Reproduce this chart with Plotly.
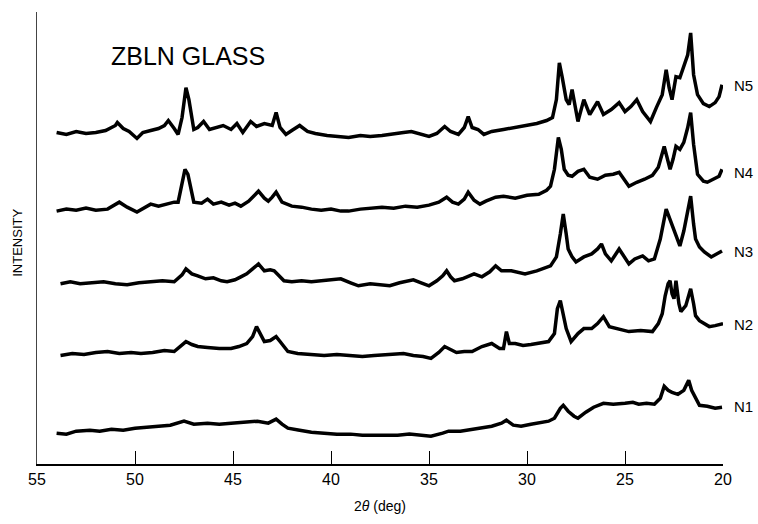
import plotly.graph_objects as go

# 2-theta positions (deg) and relative intensities (arbitrary units, stacked offsets included)
n5_x = [54.0,53.5,53.0,52.5,52.0,51.5,51.0,50.9,50.6,50.3,49.9,49.6,49.2,48.8,48.5,48.3,48.0,47.8,47.6,47.4,47.25,47.0,46.8,46.5,46.2,45.8,45.5,45.1,44.8,44.5,44.1,43.8,43.4,43.0,42.8,42.6,42.3,42.0,41.6,41.2,40.8,40.2,39.6,39.1,38.5,38.0,37.4,36.8,36.3,35.9,35.4,35.0,34.6,34.2,33.9,33.5,33.2,33.0,32.8,32.5,32.2,31.8,31.2,30.6,30.0,29.5,29.0,28.7,28.5,28.35,28.2,28.0,27.85,27.7,27.4,27.1,26.8,26.4,26.1,25.7,25.3,25.0,24.7,24.4,24.1,23.7,23.4,23.1,22.9,22.75,22.6,22.4,22.2,22.0,21.8,21.65,21.5,21.3,21.0,20.7,20.4,20.2,20.05]
n5_y = [333,331,334,332,333,335,340,343,337,334,327,333,335,337,340,345,337,331,348,378,366,336,338,344,336,338,340,336,342,333,344,339,342,340,353,338,331,335,340,334,332,330,329,328,330,329,330,332,333,334,331,329,332,339,334,331,338,349,338,336,331,334,336,338,340,342,345,348,366,403,388,366,361,376,344,366,351,364,351,356,363,354,359,366,354,344,358,371,396,378,366,389,388,399,411,433,391,371,362,359,363,369,381]

n4_x = [54.0,53.5,53.0,52.5,52.0,51.4,50.8,50.4,49.9,49.5,49.2,48.8,48.4,48.0,47.8,47.6,47.45,47.3,47.15,47.0,46.6,46.3,46.0,45.6,45.2,44.9,44.6,44.2,43.9,43.7,43.4,43.2,43.0,42.8,42.5,42.0,41.5,41.0,40.5,40.0,39.5,39.1,38.5,38.0,37.4,36.8,36.2,35.6,35.0,34.5,34.1,33.8,33.5,33.2,33.0,32.7,32.4,32.1,31.6,31.2,30.6,30.0,29.4,29.0,28.8,28.6,28.4,28.25,28.1,27.9,27.7,27.4,27.1,26.8,26.4,26.0,25.6,25.3,24.8,24.4,24.0,23.6,23.3,23.0,22.85,22.7,22.55,22.4,22.2,22.0,21.8,21.65,21.5,21.3,21.0,20.8,20.5,20.2,20.05]
n4_y = [254,256,255,257,255,256,263,258,253,258,261,259,261,263,263,281,296,291,278,263,262,266,261,263,260,262,259,264,270,274,267,264,268,273,263,259,258,256,255,256,254,254,256,257,258,257,259,258,260,263,268,263,261,266,273,265,261,264,268,269,267,270,271,275,279,296,328,316,296,290,289,294,296,288,286,290,291,293,279,283,286,290,298,319,306,296,306,319,316,323,338,353,321,291,284,283,286,289,296]

n3_x = [53.8,53.3,52.8,52.2,51.6,51.0,50.4,49.8,49.2,48.6,48.0,47.6,47.4,47.1,46.8,46.4,46.0,45.6,45.3,44.9,44.6,44.3,44.0,43.7,43.4,43.1,42.9,42.6,42.4,42.0,41.5,41.0,40.5,40.0,39.5,39.0,38.6,38.0,37.5,37.0,36.5,36.0,35.8,35.4,35.0,34.6,34.3,34.1,33.9,33.7,33.3,32.7,32.3,31.9,31.6,31.3,30.8,30.1,29.5,28.8,28.5,28.3,28.15,28.0,27.9,27.7,27.5,27.1,26.7,26.4,26.2,26.0,25.7,25.5,25.3,24.8,24.5,24.1,23.8,23.5,23.3,23.2,22.9,22.75,22.6,22.4,22.2,22.0,21.85,21.65,21.5,21.4,21.2,20.95,20.6,20.3,20.05]
n3_y = [181,183,181,182,183,181,180,182,183,184,183,190,196,191,189,186,187,184,183,185,188,191,196,201,194,195,194,188,184,183,184,183,184,185,186,182,179,181,180,179,182,184,185,182,179,184,189,194,188,184,186,191,188,193,199,194,194,191,194,199,208,231,251,231,216,208,203,208,211,216,221,211,204,210,216,201,206,209,204,206,218,226,256,248,238,228,219,234,251,269,241,226,218,213,208,211,214]

n2_x = [53.8,53.2,52.6,52.0,51.4,50.8,50.2,49.7,49.1,48.5,48.0,47.7,47.4,47.1,46.8,46.3,45.7,45.1,44.7,44.3,44.0,43.8,43.6,43.4,43.1,42.8,42.6,42.2,41.7,41.0,40.35,39.7,39.0,38.4,37.8,37.2,36.8,36.3,35.8,35.3,34.9,34.5,34.2,34.0,33.6,33.2,32.8,32.3,31.8,31.4,31.2,31.05,30.9,30.6,30.2,29.8,29.4,28.9,28.6,28.45,28.3,28.15,28.0,27.75,27.4,27.1,26.7,26.4,26.1,25.8,25.4,24.8,24.2,23.6,23.3,23.1,22.95,22.8,22.7,22.6,22.5,22.4,22.25,22.15,21.9,21.75,21.65,21.5,21.4,21.2,20.95,20.7,20.4,20.0]
n2_y = [109,111,110,112,113,111,112,111,112,114,113,118,123,120,118,117,116,116,118,121,128,138,130,123,124,128,123,113,111,110,109,110,109,108,109,110,111,111,109,108,106,112,118,116,112,113,113,118,121,116,116,133,121,121,119,120,121,123,131,156,164,151,136,123,131,136,136,141,148,138,136,133,134,133,141,151,169,181,184,171,166,184,161,153,159,171,176,161,149,144,141,138,139,141]

n1_x = [54.0,53.5,53.0,52.3,51.8,51.2,50.6,50.0,49.4,48.8,48.2,47.5,47.0,46.3,45.7,45.1,44.5,43.75,43.2,42.8,42.5,42.2,41.6,41.0,40.35,39.7,39.0,38.4,37.8,37.2,36.6,36.0,35.4,34.9,34.3,34.0,33.4,32.8,32.35,31.8,31.3,31.05,30.7,30.3,29.8,29.3,28.9,28.6,28.3,28.15,27.9,27.6,27.4,27.0,26.6,26.1,25.6,25.0,24.6,24.3,23.9,23.5,23.2,23.0,22.8,22.6,22.3,22.0,21.75,21.6,21.4,21.2,20.8,20.4,20.05]
n1_y = [31,30,33,34,33,35,34,36,37,38,39,43,40,41,40,41,42,43,41,45,40,36,34,32,31,30,30,29,29,29,29,30,29,28,31,33,33,35,36,38,41,44,39,38,40,42,43,46,56,59,53,48,46,52,57,61,60,61,62,60,61,60,66,78,74,72,70,74,84,74,66,59,58,56,57]

series_names = ["N5", "N4", "N3", "N2", "N1"]
series_x = [n5_x, n4_x, n3_x, n2_x, n1_x]
series_y = [n5_y, n4_y, n3_y, n2_y, n1_y]
label_y = [380, 293, 213, 140, 58]

tick_vals = [55, 50, 45, 40, 35, 30, 25, 20]
tick_text = ["55", "50", "45", "40", "35", "30", "25", "20"]

fig = go.Figure()
for name, xs, ys in zip(series_names, series_x, series_y):
    fig.add_trace(go.Scatter(x=xs, y=ys, mode="lines", name=name,
                             line=dict(color="black", width=3.5), showlegend=False))

for name, ly in zip(series_names, label_y):
    fig.add_annotation(x=1.013, xref="paper", y=ly, yref="y", text=name,
                       showarrow=False, xanchor="left", yanchor="middle",
                       font=dict(size=15, color="black", family="Liberation Sans"))

fig.add_annotation(x=0.22, xref="paper", y=410, yref="y", text="ZBLN GLASS",
                   showarrow=False, xanchor="center", yanchor="middle",
                   font=dict(size=25, color="black", family="Liberation Sans"))

fig.add_annotation(x=-0.028, xref="paper", y=222, yref="y", text="INTENSITY",
                   textangle=-90, showarrow=False, xanchor="center", yanchor="middle",
                   font=dict(size=13, color="black", family="Liberation Sans"))

fig.update_layout(
    width=758, height=524,
    margin=dict(l=37, r=35, t=12, b=58),
    paper_bgcolor="white", plot_bgcolor="white",
    font=dict(family="Liberation Sans", color="black"),
    xaxis=dict(range=[55, 20], tickvals=tick_vals, ticktext=tick_text,
               ticks="inside", ticklen=13, tickwidth=1.2, tickcolor="black",
               showline=True, linecolor="black", linewidth=2, showgrid=False,
               zeroline=False, tickfont=dict(size=16),
               title=dict(text="2<i>θ</i> (deg)", font=dict(size=14), standoff=14)),
    yaxis=dict(range=[0, 454], showline=True, linecolor="#444444", linewidth=1.2,
               showgrid=False, zeroline=False, showticklabels=False, ticks=""),
)

fig.write_html("out.html")
